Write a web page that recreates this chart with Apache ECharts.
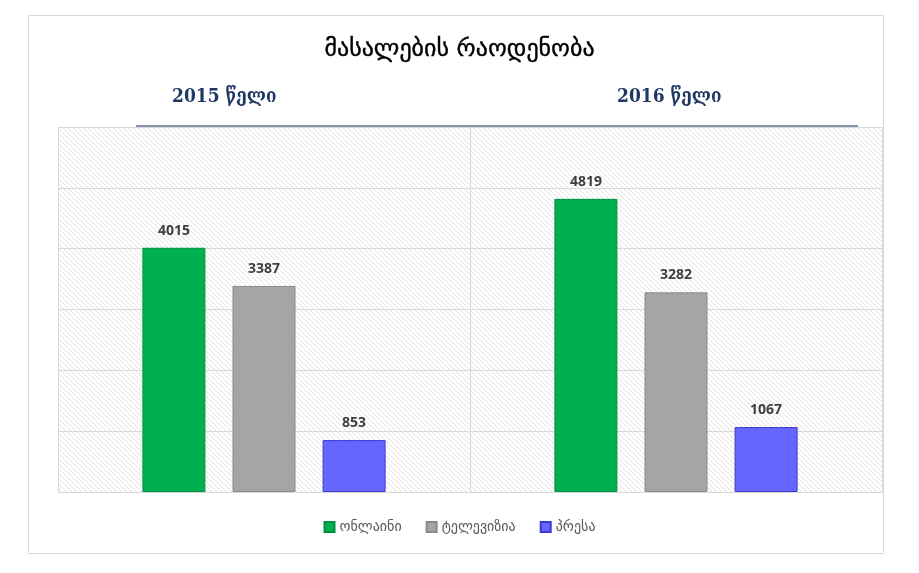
<!DOCTYPE html>
<html>
<head>
<meta charset="utf-8">
<style>
html, body { margin: 0; padding: 0; background: #fff; }
#chart { width: 919px; height: 573px; }
</style>
<script src="https://cdn.jsdelivr.net/npm/echarts@6/dist/echarts.min.js"></script>
</head>
<body>
<div id="chart"></div>
<script>
var chartTitle = 'მასალების რაოდენობა';
var years = ['2015 წელი', '2016 წელი'];
var seriesNames = ['ონლაინი', 'ტელევიზია', 'პრესა'];
var onlineData = [4015, 4819];
var tvData = [3387, 3282];
var pressData = [853, 1067];

// hatched background for the plot area
function makeHatch() {
    var s = 5;
    var c = document.createElement('canvas');
    c.width = s; c.height = s;
    var ctx = c.getContext('2d');
    ctx.fillStyle = '#ffffff';
    ctx.fillRect(0, 0, s, s);
    ctx.strokeStyle = '#e0e0e0';
    ctx.lineWidth = 1;
    ctx.beginPath();
    ctx.moveTo(-1, -1); ctx.lineTo(s + 1, s + 1);
    ctx.moveTo(-1, s - 1); ctx.lineTo(1, s + 1);
    ctx.moveTo(s - 1, -1); ctx.lineTo(s + 1, 1);
    ctx.stroke();
    return c;
}

var myChart = echarts.init(document.getElementById('chart'));

var labelStyle = {
    show: true,
    position: 'top',
    distance: 10,
    color: '#404040',
    fontSize: 14,
    fontWeight: 'bold',
    fontFamily: 'Open Sans'
};

var option = {
    animation: false,
    backgroundColor: '#ffffff',
    title: {
        text: chartTitle,
        left: 'center',
        top: 33,
        textStyle: {
            fontFamily: 'DejaVu Sans',
            fontSize: 24,
            fontWeight: 'normal',
            color: '#000000',
            textBorderColor: '#000000',
            textBorderWidth: 0.4
        }
    },
    graphic: [
        {
            type: 'rect',
            shape: {x: 28.5, y: 15.5, width: 855, height: 538},
            style: {fill: null, stroke: '#d9d9d9', lineWidth: 1},
            silent: true
        },
        {
            type: 'line',
            shape: {x1: 136, y1: 126, x2: 858, y2: 126},
            style: {stroke: '#5a6f8f', lineWidth: 1.5},
            silent: true
        },
        {
            type: 'text',
            left: 172,
            top: 88,
            style: {text: years[0], fill: '#1f3864', fontSize: 19, fontWeight: 'bold', fontFamily: 'DejaVu Serif Condensed'}
        },
        {
            type: 'text',
            left: 617,
            top: 88,
            style: {text: years[1], fill: '#1f3864', fontSize: 19, fontWeight: 'bold', fontFamily: 'DejaVu Serif Condensed'}
        }
    ],
    legend: {
        bottom: 34,
        left: 'center',
        itemWidth: 10,
        itemHeight: 10,
        itemGap: 24,
        icon: 'rect',
        textStyle: {color: '#595959', fontSize: 14, fontFamily: 'DejaVu Sans'},
        data: seriesNames
    },
    grid: {
        left: 58,
        right: 37,
        top: 127,
        bottom: 81,
        show: true,
        borderWidth: 0,
        backgroundColor: {image: makeHatch(), repeat: 'repeat'}
    },
    xAxis: {
        type: 'category',
        data: years,
        axisLabel: {show: false},
        axisTick: {show: false},
        axisLine: {show: true, lineStyle: {color: '#d9d9d9'}},
        splitLine: {show: true, lineStyle: {color: '#d9d9d9'}}
    },
    yAxis: {
        type: 'value',
        min: 0,
        max: 6000,
        interval: 1000,
        axisLabel: {show: false},
        axisTick: {show: false},
        axisLine: {show: false},
        splitLine: {show: true, lineStyle: {color: '#d9d9d9'}}
    },
    series: [
        {
            name: seriesNames[0],
            type: 'bar',
            barWidth: 63,
            barGap: '43%',
            data: onlineData,
            itemStyle: {color: '#00b050', borderColor: '#00913f', borderWidth: 1},
            label: labelStyle
        },
        {
            name: seriesNames[1],
            type: 'bar',
            barWidth: 63,
            barGap: '43%',
            data: tvData,
            itemStyle: {color: '#a5a5a5', borderColor: '#8a8a8a', borderWidth: 1},
            label: labelStyle
        },
        {
            name: seriesNames[2],
            type: 'bar',
            barWidth: 63,
            barGap: '43%',
            data: pressData,
            itemStyle: {color: '#6666ff', borderColor: '#3a3ad0', borderWidth: 1},
            label: labelStyle
        }
    ]
};

myChart.setOption(option);
</script>
</body>
</html>
